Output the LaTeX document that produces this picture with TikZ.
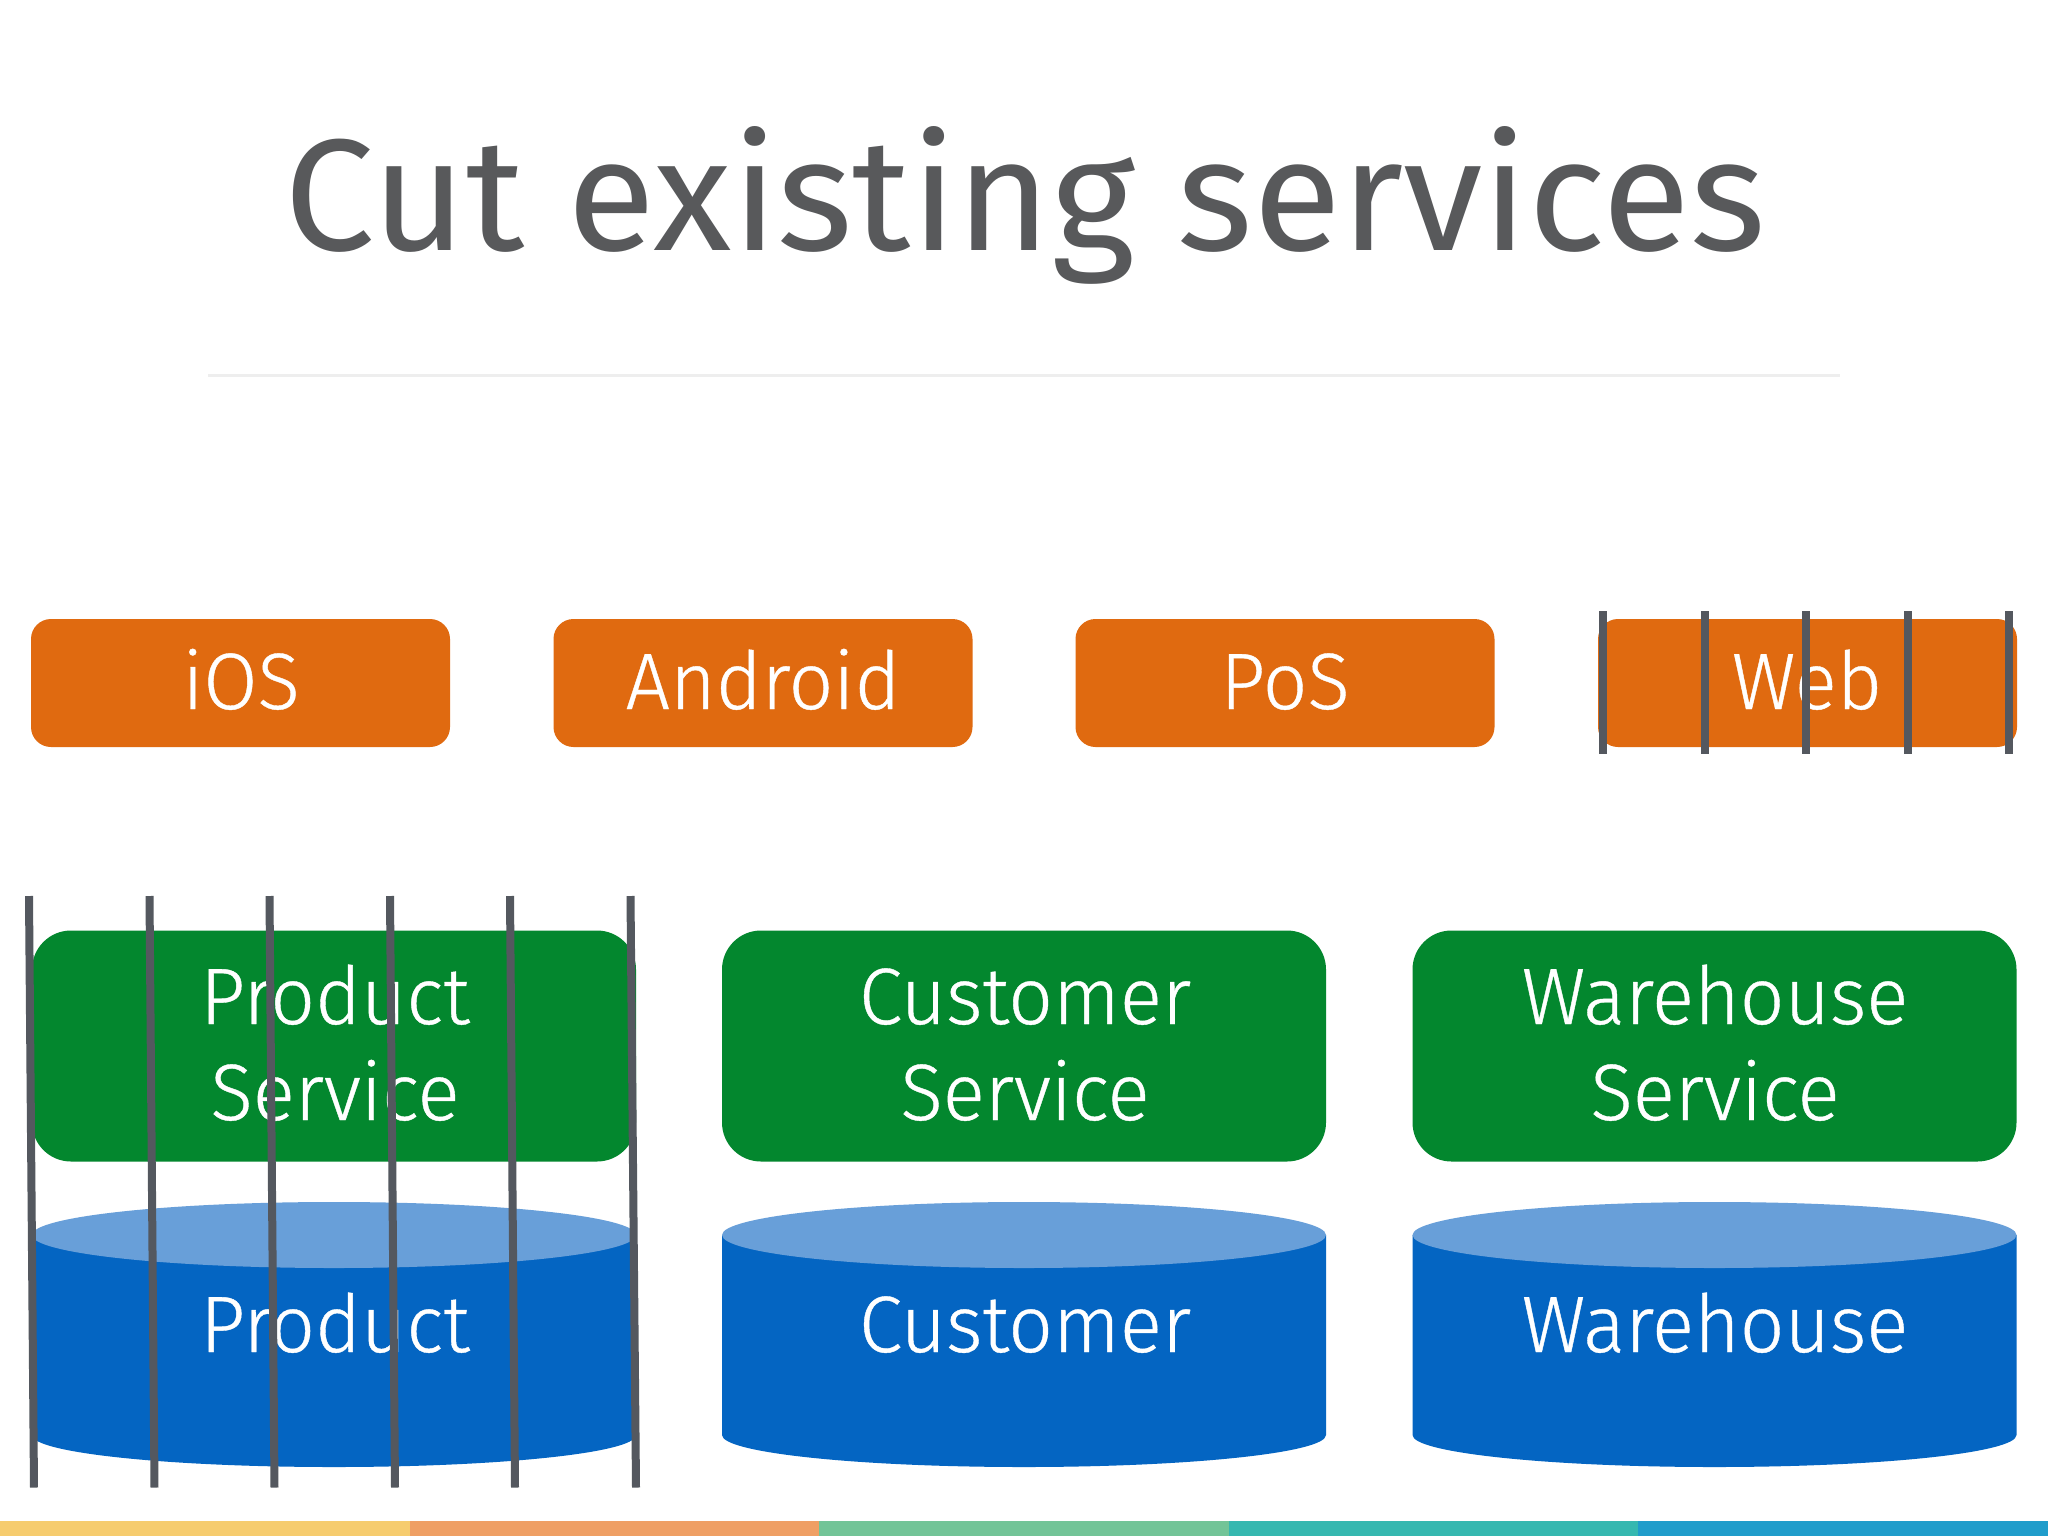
\documentclass[tikz,border=0pt]{standalone}
\usepackage{fontspec}
\setmainfont{Fira Sans Light}
\newfontfamily\titlefont[FakeStretch=1.015]{Fira Sans}
\newfontfamily\lblfont[FakeStretch=0.98,FakeBold=0.5]{Fira Sans Light}
\definecolor{titlegrey}{HTML}{58595B}
\definecolor{cutgrey}{HTML}{54585F}
\definecolor{rulegrey}{HTML}{EEEEEE}
\definecolor{orangebox}{HTML}{E06A10}
\definecolor{greenbox}{HTML}{03872E}
\definecolor{bluebody}{HTML}{0465C2}
\definecolor{bluetop}{HTML}{689FD9}
\definecolor{barA}{HTML}{F6CC6E}
\definecolor{barB}{HTML}{EF9F64}
\definecolor{barC}{HTML}{72C497}
\definecolor{barD}{HTML}{35B8B0}
\definecolor{barE}{HTML}{209DCB}
\tikzset{
  x=0.5pt,y=-0.5pt,
  clientbox/.style={fill=orangebox,rounded corners=10pt,inner sep=0pt,minimum width=209.5pt,minimum height=64pt},
  servicebox/.style={fill=greenbox,rounded corners=19.5pt,inner sep=0pt,minimum width=302pt,minimum height=115.5pt},
  boxlabel/.style={text=white,font=\fontsize{40}{48}\lblfont,anchor=base,align=center,inner sep=0pt},
  cutline/.style={draw=cutgrey,line width=4pt}
}
\begin{document}
\begin{tikzpicture}
\useasboundingbox (0,0) rectangle (2048,1536);
\fill[white] (0,0) rectangle (2048,1536);
\node[text=titlegrey,font=\fontsize{79.5}{90}\titlefont,anchor=base,inner sep=0pt] (title) at (1025,250) {Cut existing services};
\draw[draw=rulegrey,line width=1.5pt] (208,375) coordinate (ruleL) -- (1840,375) coordinate (ruleR);
% clients
\node[clientbox] (ios) at (240.5,683) {};
\node[clientbox] (android) at (763,683) {};
\node[clientbox] (pos) at (1285,683) {};
\node[clientbox] (web) at (1807.5,683) {};
\node[boxlabel] (iosl) at (241,709) {iOS};
\node[boxlabel] (androidl) at (763,709) {Android};
\node[boxlabel] (posl) at (1285,709) {PoS};
\node[boxlabel] (webl) at (1807,709) {Web};
% services
\node[servicebox] (ps) at (334,1046) {};
\node[servicebox] (cs) at (1024,1046) {};
\node[servicebox] (ws) at (1714.5,1046) {};
\node[boxlabel] (psl) at (335,1120) {Product\\Service};
\node[boxlabel] (csl) at (1025,1120) {Customer\\Service};
\node[boxlabel] (wsl) at (1715,1120) {Warehouse\\Service};
% databases
\foreach \cx/\nm in {334/pd,1024/cd,1714.5/wd}{
  \fill[bluebody] (\cx-302,1235) -- (\cx-302,1435) arc[start angle=180,end angle=360,x radius=302,y radius=-32] -- (\cx+302,1235) -- cycle;
  \fill[bluetop] (\cx,1235) ellipse[x radius=302,y radius=33];
}
\node[boxlabel] (pdl) at (335,1352) {Product};
\node[boxlabel] (cdl) at (1025,1352) {Customer};
\node[boxlabel] (wdl) at (1715,1352) {Warehouse};
% cuts
\foreach \xa/\xb in {29/34,149.5/154.5,269.5/274.5,390/395,510/515,630.5/636}
  \draw[cutline] (\xa,896) -- (\xb,1487.5);
\foreach \xa in {1603,1705,1806,1907.5,2009}
  \draw[cutline] (\xa,611) -- (\xa,754);
% bottom band
\foreach \i/\c in {0/barA,1/barB,2/barC,3/barD,4/barE}
  \fill[\c] ({\i*409.6},1521) rectangle ({(\i+1)*409.6},1536);
\end{tikzpicture}
\end{document}
